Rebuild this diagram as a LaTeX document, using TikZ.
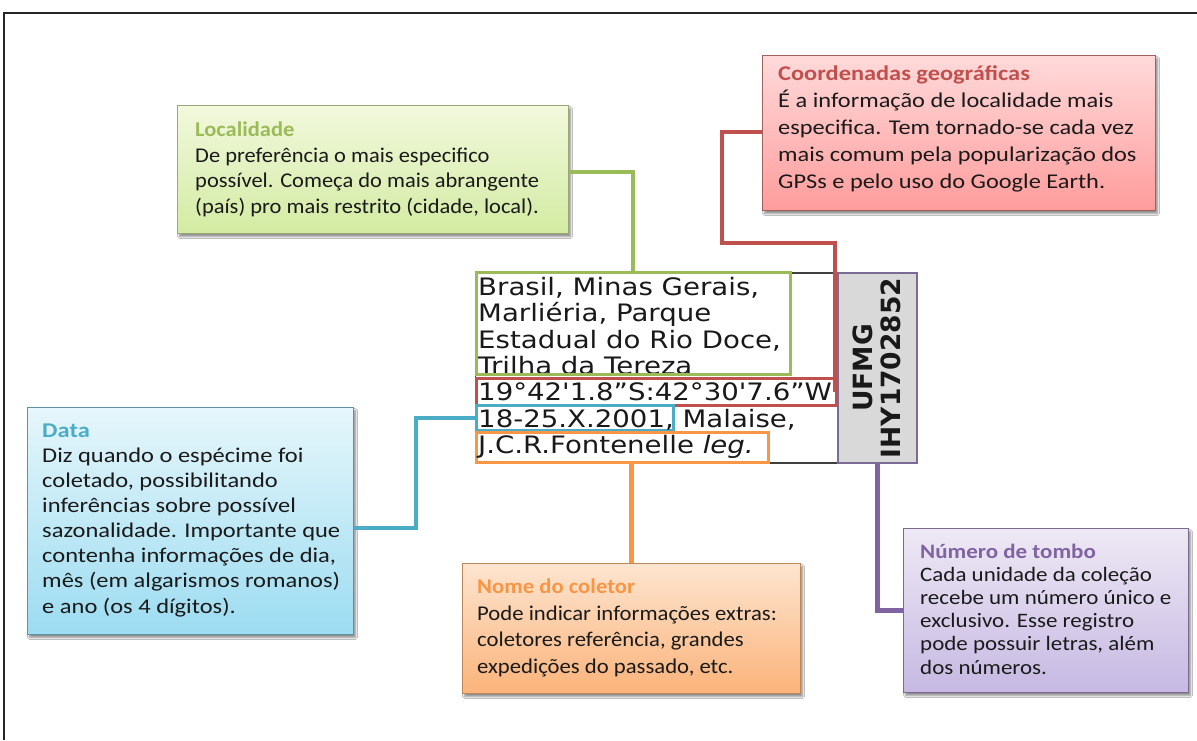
\documentclass[tikz,border=0pt]{standalone}
\usepackage{fontspec}
\setmainfont{Carlito}
\newfontfamily\labelfont{DejaVu Sans}
\usetikzlibrary{shadows.blur,calc}
\definecolor{cgreen}{HTML}{9BBB59}
\definecolor{cred}{HTML}{C0504D}
\definecolor{cblue}{HTML}{4BACC6}
\definecolor{corange}{HTML}{F79646}
\definecolor{cpurple}{HTML}{8064A2}
\definecolor{bodytext}{HTML}{1A1A1A}
\definecolor{gtop}{HTML}{F2F8DD}\definecolor{gbot}{HTML}{D3EBA2}
\definecolor{rtop}{HTML}{FFDADA}\definecolor{rbot}{HTML}{FF9C9C}
\definecolor{btop}{HTML}{E6F6FB}\definecolor{bbot}{HTML}{9CDCF1}
\definecolor{otop}{HTML}{FDE5D0}\definecolor{obot}{HTML}{FBB37A}
\definecolor{ptop}{HTML}{EEE9F5}\definecolor{pbot}{HTML}{C6B8E2}
\definecolor{numborder}{HTML}{7A6C96}
\definecolor{numfill}{HTML}{D9D9D9}
\tikzset{
  callout/.style={draw=#1, line width=1.1pt, rectangle, inner sep=0pt, anchor=north west,
    blur shadow={shadow xshift=2pt, shadow yshift=-3pt, shadow blur steps=6, shadow opacity=45}},
  body/.style={inner sep=0pt, anchor=north west, align=left, text=bodytext},
  conn/.style={draw=#1, line width=4.5pt},
  hl/.style={draw=#1, line width=2.6pt, rectangle, inner sep=0pt, anchor=north west},
  lbl/.style={inner sep=0pt, anchor=base west, xscale=1.15, font=\labelfont\fontsize{24}{26}\selectfont, text=black!90}
}
\begin{document}
\begin{tikzpicture}[x=1pt,y=-1pt]
\useasboundingbox (0,0) rectangle (1197,740);
\fill[white] (0,0) rectangle (1197,740);
\draw[line width=1.4pt, black!85] (4,740) -- (4,13) -- (1197,13);

% callout boxes
\node[callout=cgreen!70!black!70, minimum width=391pt, minimum height=128pt,
  top color=gtop, bottom color=gbot] (loc) at (177,105) {};
\node[callout=cred!70!black!80, minimum width=393pt, minimum height=155pt,
  top color=rtop, bottom color=rbot] (coo) at (762,55) {};
\node[callout=cblue!70!black!80, minimum width=326pt, minimum height=227pt,
  top color=btop, bottom color=bbot] (data) at (27,407) {};
\node[callout=corange!70!black!80, minimum width=338pt, minimum height=130pt,
  top color=otop, bottom color=obot] (nome) at (462,563) {};
\node[callout=cpurple!70!black!80, minimum width=285pt, minimum height=164pt,
  top color=ptop, bottom color=pbot] (tombo) at (903,528) {};

% label
\node[draw=black!75, fill=white, line width=1.5pt, minimum width=362pt, minimum height=190pt,
  inner sep=0pt, anchor=north west] (label) at (475,272) {};
\node[draw=numborder, fill=numfill, line width=1.8pt, minimum width=79pt, minimum height=190pt,
  inner sep=0pt, anchor=north west] (num) at (837,272) {};

% connector corner points
\coordinate (g1) at (633,172);
\coordinate (r1) at (722,132);
\coordinate (r2) at (835,243);
\coordinate (b1) at (416,528);

\node[lbl] (l1) at (478,295) {Brasil, Minas Gerais,};
\node[lbl] (l2) at (478,321.5) {Marliéria, Parque};
\node[lbl] (l3) at (478,348) {Estadual do Rio Doce,};
\node[lbl] (l4) at (478,374.5) {Trilha da Tereza};
\fill[white] (476,374) rectangle (834,377);
\node[hl=cgreen, minimum width=314pt, minimum height=102pt] (green) at (475,271) {};
\node[hl=cred, minimum width=360pt, minimum height=27pt] (red) at (475,377) {};
\node[hl=cblue, minimum width=197pt, minimum height=25pt] (blue) at (475,404) {};
\node[hl=corange, minimum width=292pt, minimum height=30pt] (orange) at (475,431) {};
\node[lbl] (l5) at (478,400.5) {19°42'1.8”S:42°30'7.6”W};
\node[lbl] (l6) at (478,427) {18-25.X.2001, Malaise,};
\node[lbl] (l7) at (478,453) {J.C.R.Fontenelle \textit{leg.}};

\node[rotate=90, align=center, inner sep=0pt, font=\labelfont\bfseries\fontsize{26.5}{28}\selectfont, text=black!90] (numtext) at (876.5,368) {UFMG\\IHY1702852};

\draw[conn=cgreen] (g1 -| loc.east) -- (g1) -- (g1 |- green.north);
\draw[conn=cred] (r1 -| coo.west) -- (r1) |- (r2) -- (r2 |- red.east);
\draw[conn=cblue] (b1 -| data.east) -- (b1) |- (blue.west);
\draw[conn=corange] (orange.south -| nome.north) -- (nome.north);
\draw[conn=cpurple] (num.south) |- (tombo.west);

% callout texts
\node[body, xscale=1.07, font=\fontsize{21}{25.7}\selectfont] (loct) at (195,121.5)
 {\textcolor{cgreen}{\textbf{Localidade}}\\De preferência o mais especifico\\possível. Começa do mais abrangente\\(país) pro mais restrito (cidade, local).};
\node[body, xscale=1.16, font=\fontsize{21}{27}\selectfont] (coot) at (778,65.5)
 {\textcolor{cred}{\textbf{Coordenadas geográficas}}\\É a informação de localidade mais\\especifica. Tem tornado-se cada vez\\mais comum pela popularização dos\\GPSs e pelo uso do Google Earth.};
\node[body, xscale=1.165, font=\fontsize{21}{25.1}\selectfont] (datat) at (42,423.5)
 {\textcolor{cblue}{\textbf{Data}}\\Diz quando o espécime foi\\coletado, possibilitando\\inferências sobre possível\\sazonalidade. Importante que\\contenha informações de dia,\\mês (em algarismos romanos)\\e ano (os 4 dígitos).};
\node[body, xscale=1.08, font=\fontsize{21}{26.7}\selectfont] (nomet) at (477,578.5)
 {\textcolor{corange}{\textbf{Nome do coletor}}\\Pode indicar informações extras:\\coletores referência, grandes\\expedições do passado,  etc.};
\node[body, xscale=1.12, font=\fontsize{20.5}{23.2}\selectfont] (tombot) at (920,543.5)
 {\textcolor{cpurple}{\textbf{Número de tombo}}\\Cada unidade da coleção\\recebe um número único e\\exclusivo. Esse registro\\pode possuir letras, além\\dos números.};
\end{tikzpicture}
\end{document}
